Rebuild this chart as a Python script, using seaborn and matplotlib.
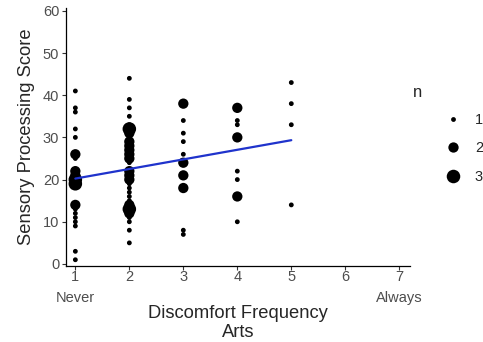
import pandas as pd
import numpy as np
import matplotlib
matplotlib.use('Agg')
import matplotlib.pyplot as plt
import seaborn as sns

sns.set_style('white')
plt.rcParams['font.family'] = ['Liberation Sans', 'DejaVu Sans']

# (score, count) per discomfort frequency level
arts_level = [1, 2, 3, 4, 5]
scores_1 = [41, 37, 36, 32, 30, 26, 25, 22, 21, 20, 19, 14, 13, 12, 11, 10, 9, 3, 1]
counts_1 = [1, 1, 1, 1, 1, 2, 1, 2, 2, 3, 3, 2, 1, 1, 1, 1, 1, 1, 1]
scores_2 = [44, 39, 37, 35, 33, 32, 31, 30, 29, 28, 27, 26, 25, 24, 22, 21, 20, 19, 18, 17, 16, 15, 14, 13, 12, 11, 10, 8, 5]
counts_2 = [1, 1, 1, 1, 1, 3, 2, 1, 2, 2, 2, 2, 2, 1, 2, 2, 2, 1, 1, 1, 1, 1, 2, 3, 2, 1, 1, 1, 1]
scores_3 = [38, 34, 31, 29, 26, 24, 21, 18, 8, 7]
counts_3 = [2, 1, 1, 1, 1, 2, 2, 2, 1, 1]
scores_4 = [37, 34, 33, 30, 22, 20, 16, 10]
counts_4 = [2, 1, 1, 2, 1, 1, 2, 1]
scores_5 = [43, 38, 33, 14]
counts_5 = [1, 1, 1, 1]

tick_values = [1, 2, 3, 4, 5, 6, 7]
tick_labels = ['1\nNever', '2', '3', '4', '5', '6', '7\nAlways']


def build_counts():
    frames = []
    all_scores = [scores_1, scores_2, scores_3, scores_4, scores_5]
    all_counts = [counts_1, counts_2, counts_3, counts_4, counts_5]
    for lvl, s, c in zip(arts_level, all_scores, all_counts):
        frames.append(pd.DataFrame({'Arts': lvl, 'Score': s, 'n': c}))
    return pd.concat(frames, ignore_index=True)


def expand(df):
    # one row per respondent, for the lm fit
    return df.loc[df.index.repeat(df['n'])].reset_index(drop=True)


def draw(df):
    fig = plt.figure(figsize=(4.83, 3.42), dpi=100)
    ax = fig.add_axes([0.137, 0.222, 0.712, 0.755])

    sns.scatterplot(data=df, x='Arts', y='Score', size='n',
                    sizes={1: 12, 2: 55, 3: 95}, color='black',
                    linewidth=0, legend='full', ax=ax)
    sns.regplot(data=expand(df), x='Arts', y='Score', scatter=False,
                ci=None, color='#1f33cc', line_kws={'linewidth': 1.6}, ax=ax)

    ax.set_xlim(0.83, 7.2)
    ax.set_ylim(-0.5, 60.7)
    ax.set_xticks(tick_values)
    ax.set_xticklabels(tick_labels)
    ax.set_yticks([0, 10, 20, 30, 40, 50, 60])
    ax.tick_params(axis='both', labelsize=10.5, labelcolor='#4d4d4d',
                   length=3, width=0.8, color='#333333', pad=2)
    ax.tick_params(axis='x', bottom=True, pad=0)
    ax.tick_params(axis='y', left=True)
    for t in ax.get_xticklabels():
        t.set_linespacing(1.6)
    for side in ['top', 'right']:
        ax.spines[side].set_visible(False)
    for side in ['left', 'bottom']:
        ax.spines[side].set_color('black')
        ax.spines[side].set_linewidth(0.9)

    ax.set_xlabel('Discomfort Frequency\nArts', fontsize=13.2, labelpad=0,
                  linespacing=1.15)
    ax.set_ylabel('Sensory Processing Score', fontsize=13.2, labelpad=6)

    sns.move_legend(ax, loc='upper left', bbox_to_anchor=(1.044, 0.643),
                    frameon=False, title='', fontsize=10.5,
                    labelspacing=0.98, handletextpad=0.5)
    fig.text(413 / 483, 1 - 93 / 342, 'n', fontsize=12, va='center', ha='left')

    fig.savefig('out.png', dpi=100)


def main():
    df = build_counts()
    draw(df)


if __name__ == "__main__":
    main()
